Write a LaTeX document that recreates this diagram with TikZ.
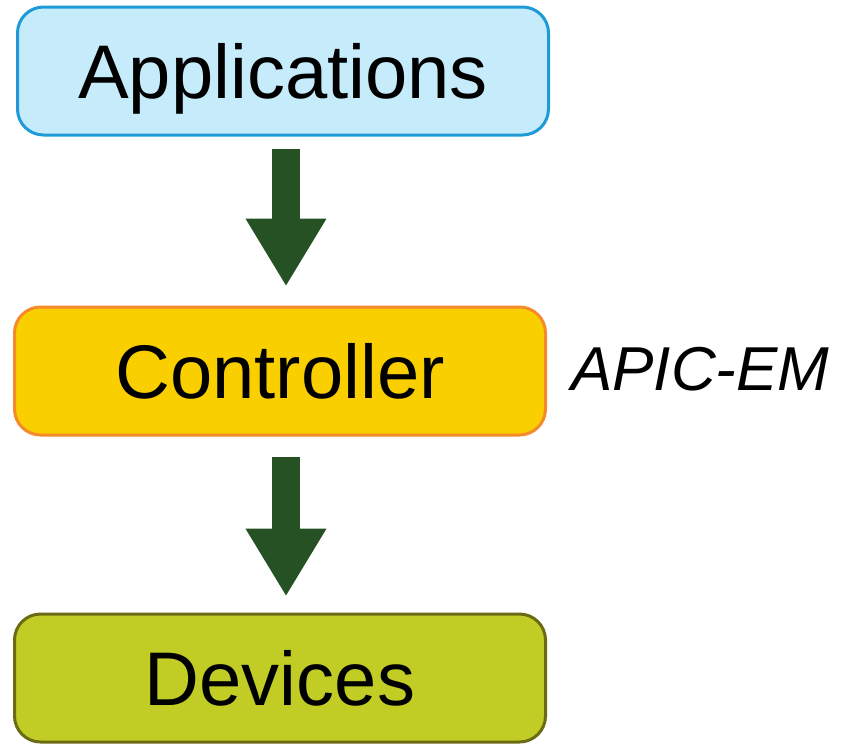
\documentclass[tikz,border=0pt]{standalone}
\usepackage{fontspec}
\setmainfont{Liberation Sans}
\usetikzlibrary{arrows.meta}
\definecolor{appfill}{HTML}{C6ECFB}
\definecolor{appdraw}{HTML}{1E9BD7}
\definecolor{ctlfill}{HTML}{F9CF00}
\definecolor{ctldraw}{HTML}{F58A2A}
\definecolor{devfill}{HTML}{C1CD24}
\definecolor{devdraw}{HTML}{6B6B14}
\definecolor{arrowgreen}{HTML}{255125}
\begin{document}
\begin{tikzpicture}[x=1pt,y=-1pt,
  layerbox/.style={rounded corners=26pt, line width=3pt, minimum width=531pt,
    minimum height=128pt, inner sep=0pt, text height=55pt, text depth=0pt,
    font=\fontsize{76}{80}\selectfont},
  blockarrow/.style={draw=arrowgreen, line width=28pt,
    -{Triangle[length=68pt,width=76pt]}, arrowgreen}]
\useasboundingbox (0,0) rectangle (846,744);
\node[layerbox, fill=appfill, draw=appdraw] (app) at (283,71) {Applications};
\node[layerbox, fill=ctlfill, draw=ctldraw] (ctl) at (280,371) {Controller};
\node[layerbox, fill=devfill, draw=devdraw] (dev) at (280,678) {Devices};
\node[anchor=base west, inner sep=0pt, font=\fontsize{62}{66}\selectfont\itshape] (apic) at (571,390) {APIC-EM};
\draw[blockarrow, shorten <=12pt, shorten >=19pt] ([xshift=3pt]app.south) -- ([xshift=3pt]app.south |- ctl.north);
\draw[blockarrow, shorten <=20pt, shorten >=16pt] ([xshift=6pt]ctl.south) -- ([xshift=6pt]ctl.south |- dev.north);
\end{tikzpicture}
\end{document}
